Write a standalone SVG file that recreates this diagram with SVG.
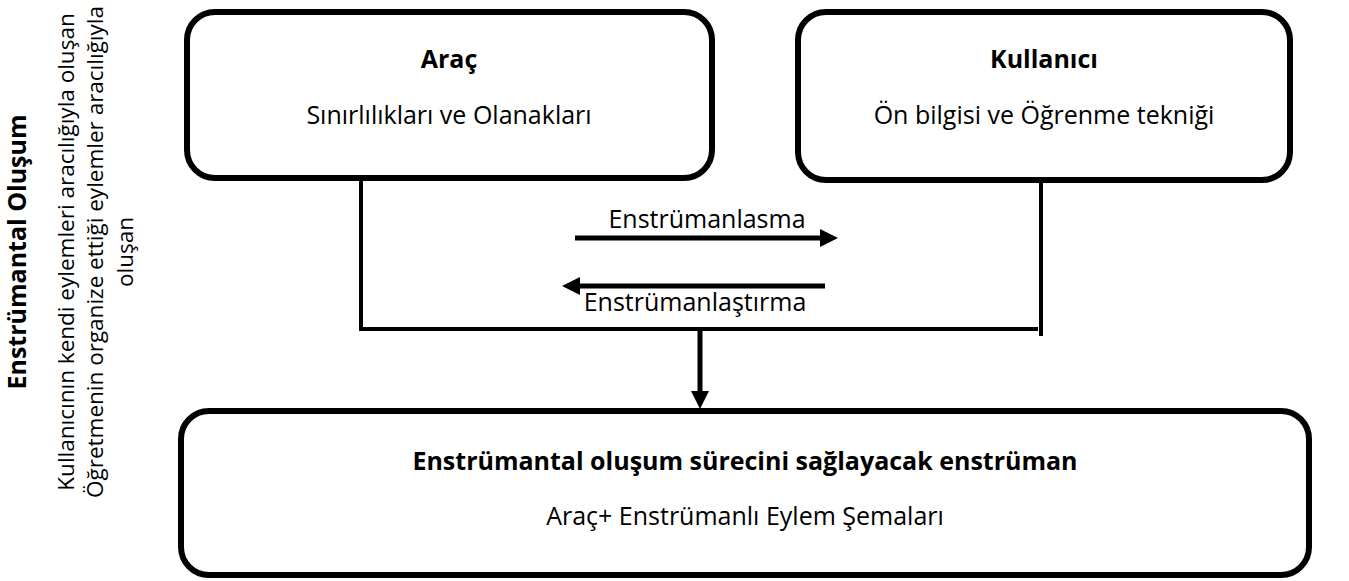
<svg xmlns="http://www.w3.org/2000/svg" width="1349" height="581" viewBox="0 0 1349 581">
<style>
.box{fill:#fff;stroke:#000;stroke-width:6}
.t{font-family:"Open Sans","Noto Sans",sans-serif;font-size:25px;fill:#000;text-anchor:middle}
.b{font-weight:bold}
.side{font-size:22.5px}
.sideb{font-size:25px;font-weight:bold}
.ln{stroke:#000;stroke-width:4;fill:none}
.ar{stroke:#000;stroke-width:5;fill:none}
.hd{fill:#000}
</style>
<rect width="1349" height="581" fill="#fff"/>
<g id="side-label" transform="translate(0,252) rotate(-90)">
<text class="t sideb" x="0" y="26">Enstrümantal Oluşum</text>
<text class="t side" x="0" y="74">Kullanıcının kendi eylemleri aracılığıyla oluşan</text>
<text class="t side" x="0" y="103">Öğretmenin organize ettiği eylemler aracılığıyla</text>
<text class="t side" x="0" y="133">oluşan</text>
</g>
<g id="connectors">
<polyline class="ln" points="361,178 361,329 1038,329"/>
<line class="ln" x1="1041" y1="181" x2="1041" y2="336"/>
<line class="ar" x1="700" y1="329" x2="700" y2="392"/>
<polygon class="hd" points="691,391 709,391 700,409"/>
<line class="ar" x1="575" y1="238" x2="822" y2="238"/>
<polygon class="hd" points="820,229 838,238 820,247"/>
<line class="ar" x1="825" y1="286" x2="578" y2="286"/>
<polygon class="hd" points="580,277 562,286 580,295"/>
<text class="t" x="707" y="228">Enstrümanlasma</text>
<text class="t" x="695" y="311">Enstrümanlaştırma</text>
</g>
<g id="arac">
<rect class="box" x="187" y="12" width="525" height="166" rx="28"/>
<text class="t b" x="449" y="68">Araç</text>
<text class="t" x="449" y="124">Sınırlılıkları ve Olanakları</text>
</g>
<g id="kullanici">
<rect class="box" x="798" y="12" width="492" height="168" rx="28"/>
<text class="t b" x="1044" y="68">Kullanıcı</text>
<text class="t" x="1044" y="124">Ön bilgisi ve Öğrenme tekniği</text>
</g>
<g id="enstruman">
<rect class="box" x="181" y="411" width="1128" height="164" rx="28"/>
<text class="t b" x="745" y="470">Enstrümantal oluşum sürecini sağlayacak enstrüman</text>
<text class="t" x="745" y="525">Araç+ Enstrümanlı Eylem Şemaları</text>
</g>
</svg>
